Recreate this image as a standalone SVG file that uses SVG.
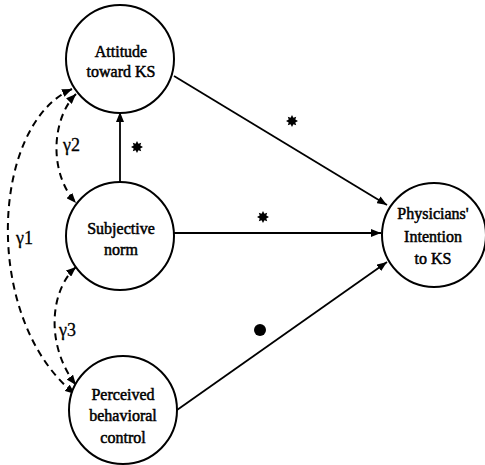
<svg xmlns="http://www.w3.org/2000/svg" width="485" height="465" viewBox="0 0 485 465">
<defs>
<marker id="ah" viewBox="0 0 10 8" refX="10" refY="4" markerWidth="10" markerHeight="8" markerUnits="userSpaceOnUse" orient="auto-start-reverse">
<path d="M0,0 L10,4 L0,8 Z" fill="#000"/>
</marker>
<path id="star" d="M0,-6 L1.4,-3.3 L4.2,-4.2 L3.3,-1.4 L6,0 L3.3,1.4 L4.2,4.2 L1.4,3.3 L0,6 L-1.4,3.3 L-4.2,4.2 L-3.3,1.4 L-6,0 L-3.3,-1.4 L-4.2,-4.2 L-1.4,-3.3 Z" fill="#000"/>
</defs>
<style>
.node{fill:#fff;stroke:#000;stroke-width:2}
.lbl{font-family:"Liberation Serif","Times New Roman",serif;font-size:16px;fill:#000;stroke:#000;stroke-width:0.5;text-anchor:middle}
.gl{font-family:"Liberation Serif","Times New Roman",serif;font-size:18px;fill:#000;stroke:#000;stroke-width:0.3}
.solid{fill:none;stroke:#000;stroke-width:1.8}
.dash{fill:none;stroke:#000;stroke-width:2;stroke-dasharray:7,5}
</style>
<rect width="485" height="465" fill="#fff"/>
<g id="connectors">
<line class="solid" x1="174" y1="76" x2="387" y2="205" marker-end="url(#ah)"/>
<line class="solid" x1="174" y1="233" x2="381" y2="233" stroke-width="2.4" marker-end="url(#ah)"/>
<line class="solid" x1="177" y1="410" x2="387" y2="262" marker-end="url(#ah)"/>
<line class="solid" x1="120" y1="185" x2="120" y2="112" stroke-width="2.2" marker-end="url(#ah)"/>
<path class="dash" d="M76,94 C52,118 48,172 76,203" marker-start="url(#ah)" marker-end="url(#ah)"/>
<path class="dash" d="M72,89 C-10,125 -18,320 75,394" marker-start="url(#ah)" marker-end="url(#ah)"/>
<path class="dash" d="M76,267 C50,290 45,345 76,385" marker-start="url(#ah)" marker-end="url(#ah)"/>
<use href="#star" x="137" y="147"/>
<use href="#star" x="292" y="121"/>
<use href="#star" x="263" y="217"/>
<circle cx="260" cy="330" r="6" fill="#000"/>
<text class="gl" x="63" y="151">γ2</text>
<text class="gl" x="16" y="244">γ1</text>
<text class="gl" x="59" y="336">γ3</text>
</g>
<g id="attitude">
<circle class="node" cx="120" cy="59" r="54"/>
<text class="lbl" x="121" y="57">Attitude</text>
<text class="lbl" x="121" y="77">toward KS</text>
</g>
<g id="subjective">
<circle class="node" cx="120" cy="236" r="54"/>
<text class="lbl" x="121" y="234">Subjective</text>
<text class="lbl" x="121" y="255">norm</text>
</g>
<g id="perceived">
<circle class="node" cx="123" cy="410" r="54"/>
<text class="lbl" x="123" y="400">Perceived</text>
<text class="lbl" x="123" y="421">behavioral</text>
<text class="lbl" x="123" y="443">control</text>
</g>
<g id="intention">
<circle class="node" cx="434" cy="235" r="52"/>
<text class="lbl" x="433" y="219">Physicians'</text>
<text class="lbl" x="433" y="242">Intention</text>
<text class="lbl" x="433" y="264">to KS</text>
</g>
</svg>
